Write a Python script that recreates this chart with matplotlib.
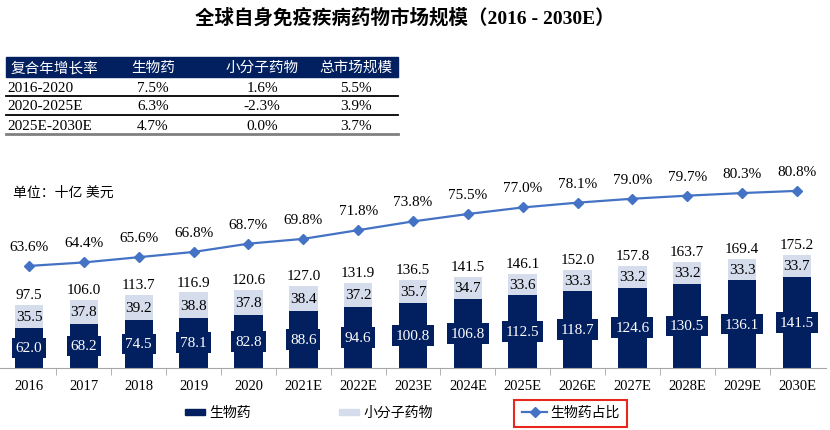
import matplotlib.pyplot as plt
from matplotlib.patches import Rectangle
from matplotlib.lines import Line2D

plt.rcParams['font.family'] = ['Liberation Serif', 'Noto Sans CJK SC']

years = ['2016', '2017', '2018', '2019', '2020', '2021E', '2022E', '2023E',
         '2024E', '2025E', '2026E', '2027E', '2028E', '2029E', '2030E']
biologic = [62.0, 68.2, 74.5, 78.1, 82.8, 88.6, 94.6, 100.8, 106.8, 112.5,
            118.7, 124.6, 130.5, 136.1, 141.5]
small_mol = [35.5, 37.8, 39.2, 38.8, 37.8, 38.4, 37.2, 35.7, 34.7, 33.6,
             33.3, 33.2, 33.2, 33.3, 33.7]
totals = [97.5, 106.0, 113.7, 116.9, 120.6, 127.0, 131.9, 136.5, 141.5, 146.1,
          152.0, 157.8, 163.7, 169.4, 175.2]
share = [63.6, 64.4, 65.6, 66.8, 68.7, 69.8, 71.8, 73.8, 75.5, 77.0,
         78.1, 79.0, 79.7, 80.3, 80.8]

table_header = ['复合年增长率', '生物药', '小分子药物', '总市场规模']
table_rows = [
    ['2016-2020', '7.5%', '1.6%', '5.5%'],
    ['2020-2025E', '6.3%', '-2.3%', '3.9%'],
    ['2025E-2030E', '4.7%', '0.0%', '3.7%'],
]

navy = '#022060'
light = '#d5dcec'
line_blue = '#4472c4'

W, H = 830, 431
fig = plt.figure(figsize=(8.3, 4.31), dpi=100)


def fx(px):
    return px / W


def fy(py):
    return 1 - py / H


fig.text(fx(405), fy(18), '全球自身免疫疾病药物市场规模（2016 - 2030E）',
         ha='center', va='center', fontsize=14, fontweight='bold')

# CAGR table
fig.patches.append(Rectangle((fx(6), fy(78)), fx(392), 20 / H,
                             transform=fig.transFigure, color=navy))
col_x = [10, 153, 262, 356]
for i, h in enumerate(table_header):
    fig.text(fx(col_x[i]), fy(68), h, color='white', fontsize=10.5,
             ha='left' if i == 0 else 'center', va='center')
row_y = [88, 107, 126]
for r, row in enumerate(table_rows):
    for i, v in enumerate(row):
        fig.text(fx(col_x[i] - 3 if i == 0 else col_x[i]), fy(row_y[r]), v,
                 fontsize=11, ha='left' if i == 0 else 'center', va='center')
for ly, c, lw in [(97, 'black', 1.3), (116, 'black', 1.3), (135, '#808080', 2)]:
    fig.lines.append(Line2D([fx(6), fx(398)], [fy(ly), fy(ly)],
                            transform=fig.transFigure, color=c, lw=lw))

fig.text(fx(13), fy(193), '单位：十亿 美元', fontsize=10, va='center', ha='left')

ax = fig.add_axes([0, fy(369), fx(826), (369 - 150) / H])
x = list(range(len(years)))
ax.bar(x, biologic, width=0.52, color=navy, zorder=2)
ax.bar(x, small_mol, bottom=biologic, width=0.52, color=light, zorder=2)
ax.set_xlim(-0.53, len(years) - 0.47)
ax.set_ylim(0, 339)

for i in x:
    ax.text(i, biologic[i] / 2, f'{biologic[i]:.1f}', color='white',
            ha='center', va='center', fontsize=11, zorder=3,
            bbox=dict(boxstyle='square,pad=0.25', fc=navy, ec='none'))
    ax.text(i, biologic[i] + small_mol[i] / 2, f'{small_mol[i]:.1f}',
            ha='center', va='center', fontsize=11, zorder=3)
    ax.text(i, totals[i] + 6, f'{totals[i]:.1f}', ha='center', va='bottom',
            fontsize=11, zorder=3)

for s in ['top', 'left', 'right']:
    ax.spines[s].set_visible(False)
ax.spines['bottom'].set_color('#a6a6a6')
ax.set_yticks([])
ax.set_xticks(x)
ax.set_xticklabels(years, fontsize=10.5)
ax.tick_params(axis='x', length=0, pad=8)
ax.set_xticks([i - 0.5 for i in range(1, len(years))], minor=True)
ax.tick_params(axis='x', which='minor', length=5, color='#a6a6a6')
ax.patch.set_alpha(0)

ax2 = ax.twinx()
ax2.plot(x, share, color=line_blue, marker='D', markersize=5, lw=1.6)
ax2.set_ylim(40.2, 90.4)
for i in x:
    ax2.text(i, share[i] + 3, f'{share[i]:.1f}%', ha='center', va='bottom',
             fontsize=11)
ax2.axis('off')

# legend
fig.patches.append(Rectangle((fx(185), fy(416)), fx(20), 6 / H,
                             transform=fig.transFigure, color=navy))
fig.text(fx(209), fy(413), '生物药', fontsize=10, va='center')
fig.patches.append(Rectangle((fx(339), fy(416)), fx(20), 6 / H,
                             transform=fig.transFigure, color=light))
fig.text(fx(363), fy(413), '小分子药物', fontsize=10, va='center')
fig.lines.append(Line2D([fx(522), fx(547)], [fy(413), fy(413)],
                        transform=fig.transFigure, color=line_blue, lw=1.6))
fig.lines.append(Line2D([fx(534.5)], [fy(413)], transform=fig.transFigure,
                        color=line_blue, marker='D', markersize=5))
fig.patches.append(Rectangle((fx(514), fy(428)), fx(113), 27 / H,
                             transform=fig.transFigure, fill=False,
                             ec='#e8281e', lw=1.5))
fig.text(fx(550), fy(413), '生物药占比', fontsize=10, va='center')

fig.savefig('out.png', dpi=100)
